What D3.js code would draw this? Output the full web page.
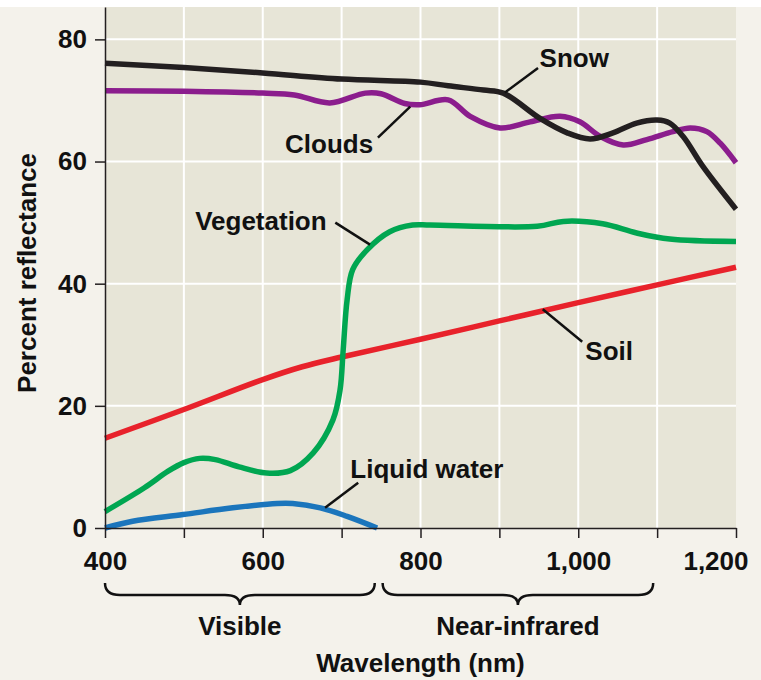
<!DOCTYPE html>
<html>
<head>
<meta charset="utf-8">
<script src="https://cdn.jsdelivr.net/npm/d3@7"></script>
<style>
  body { margin: 0; background: #fff; }
  svg { display: block; font-family: "Liberation Sans", Arial, sans-serif; font-weight: bold; }
</style>
</head>
<body>
<div id="chart"></div>
<script>
// data ---------------------------------------------------------
const snowW   = [400, 500, 600, 700, 800, 835, 880, 905, 951, 986, 1015, 1044, 1074, 1100, 1116, 1133, 1158, 1200];
const snowV   = [76.1, 75.4, 74.5, 73.5, 73.0, 72.4, 71.7, 71.2, 67.1, 64.7, 63.7, 64.7, 66.3, 66.8, 66.3, 64.1, 59.2, 52.2];

const cloudW  = [400, 500, 600, 640, 685, 730, 750, 780, 799, 835, 863, 901, 939, 977, 1002, 1028, 1057, 1087, 1120, 1142, 1163, 1180, 1200];
const cloudV  = [71.6, 71.5, 71.2, 70.9, 69.6, 71.2, 71.1, 69.5, 69.3, 70.1, 67.4, 65.5, 66.5, 67.4, 66.5, 64.1, 62.7, 63.6, 64.9, 65.5, 64.9, 63.0, 59.8];

const vegW    = [400, 450, 480, 500, 520, 540, 570, 605, 635, 664, 689, 698, 702, 707, 714, 732, 761, 790, 812, 948, 981, 1031, 1074, 1116, 1200];
const vegV    = [2.7, 6.6, 9.3, 10.7, 11.4, 11.2, 10.0, 9.0, 9.4, 12.3, 17.7, 22.6, 29.2, 37.4, 42.3, 45.5, 48.5, 49.6, 49.6, 49.4, 50.2, 49.8, 48.3, 47.3, 46.9];

const soilW   = [400, 500, 600, 650, 700, 800, 900, 1000, 1100, 1200];
const soilV   = [14.7, 19.4, 24.3, 26.4, 28.0, 30.9, 33.9, 36.9, 39.8, 42.7];

const waterW  = [400, 435, 499, 562, 618, 638, 673, 707, 745];
const waterV  = [0, 1.1, 2.2, 3.3, 4.0, 4.0, 3.3, 1.9, 0];

const seriesNames  = ['Liquid water', 'Soil', 'Vegetation', 'Clouds', 'Snow'];
const seriesColors = ['#1b75bc', '#e8222b', '#00a651', '#8b1d8d', '#231f20'];

// label text anchor (wavelength, %), leader line from curve point to label point
const labelText   = ['Snow', 'Clouds', 'Vegetation', 'Soil', 'Liquid water'];
const labelAt     = [[951, 75.5], [740, 61.4], [681, 48.8], [1009, 27.5], [711, 8.2]];
const labelAnchor = ['start', 'end', 'end', 'start', 'start'];
const leaderFrom  = [[907, 71.3], [787, 69.0], [736, 46.4], [955, 35.8], [679, 3.3]];
const leaderTo    = [[949, 75.3], [746, 63.9], [692, 50.0], [1005, 30.5], [721, 7.4]];

const bandNames = ['Visible', 'Near-infrared'];
const bandFrom  = [400, 752];
const bandTo    = [742, 1095];

const xTicks = [400, 500, 600, 700, 800, 900, 1000, 1100, 1200];
const yTicks = [0, 20, 40, 60, 80];

// chart ---------------------------------------------------------
const width = 761, height = 680, fs = 26;
const x = d3.scaleLinear().domain([400, 1200]).range([105, 736]);
const y = d3.scaleLinear().domain([0, 85.3]).range([528, 7]);

const svg = d3.select('#chart').append('svg')
  .attr('width', width)
  .attr('height', height);

svg.append('rect')
  .attr('x', 0).attr('y', 7)
  .attr('width', width).attr('height', height - 7)
  .attr('fill', '#f4f2eb');

svg.append('rect')
  .attr('x', x(400)).attr('y', y(85.3))
  .attr('width', x(1200) - x(400)).attr('height', y(0) - y(85.3))
  .attr('fill', '#e7e5d7');

// grid
svg.append('g').selectAll('line')
  .data(xTicks.slice(1, -1))
  .join('line')
    .attr('x1', d => x(d)).attr('x2', d => x(d))
    .attr('y1', y(85.3)).attr('y2', y(0))
    .attr('stroke', '#fff').attr('stroke-width', 2);

svg.append('g').selectAll('line')
  .data(yTicks.slice(1))
  .join('line')
    .attr('x1', x(400)).attr('x2', x(1200))
    .attr('y1', d => y(d)).attr('y2', d => y(d))
    .attr('stroke', '#fff').attr('stroke-width', 2);

// curves
const allW = [waterW, soilW, vegW, cloudW, snowW];
const allV = [waterV, soilV, vegV, cloudV, snowV];
const line = d3.line()
  .x(d => x(d[0]))
  .y(d => y(d[1]))
  .curve(d3.curveCatmullRom.alpha(0.5));

seriesNames.forEach((name, i) => {
  const pts = allW[i].map((w, j) => [w, allV[i][j]]);
  svg.append('path')
    .datum(pts)
    .attr('d', line)
    .attr('fill', 'none')
    .attr('stroke', seriesColors[i])
    .attr('stroke-width', 5.5)
    .attr('stroke-linejoin', 'round');
});

// axes
const xAxis = svg.append('g')
  .attr('transform', `translate(0,${y(0)})`)
  .call(d3.axisBottom(x)
    .tickValues(xTicks)
    .tickSize(10)
    .tickSizeOuter(0)
    .tickPadding(14)
    .tickFormat(d => d % 200 === 0 ? d3.format(',')(d) : ''));

const yAxis = svg.append('g')
  .attr('transform', `translate(${x(400)},0)`)
  .call(d3.axisLeft(y)
    .tickValues(yTicks)
    .tickSize(10)
    .tickSizeOuter(0)
    .tickPadding(8));

[xAxis, yAxis].forEach(g => {
  g.select('.domain').attr('stroke', '#231f20').attr('stroke-width', 1.5);
  g.selectAll('.tick line').attr('stroke', '#231f20').attr('stroke-width', 1.5);
  g.selectAll('.tick text')
    .attr('font-size', fs)
    .attr('font-weight', 'bold')
    .attr('font-family', '"Liberation Sans", Arial, sans-serif')
    .attr('fill', '#111');
});

// last x label sits pulled in from the right edge
xAxis.selectAll('.tick text')
  .filter(d => d === 1200)
  .attr('text-anchor', 'end')
  .attr('x', 12);

// leader lines and labels
labelText.forEach((t, i) => {
  svg.append('line')
    .attr('x1', x(leaderFrom[i][0])).attr('y1', y(leaderFrom[i][1]))
    .attr('x2', x(leaderTo[i][0])).attr('y2', y(leaderTo[i][1]))
    .attr('stroke', '#111').attr('stroke-width', 2.5);
  svg.append('text')
    .attr('x', x(labelAt[i][0]))
    .attr('y', y(labelAt[i][1]))
    .attr('text-anchor', labelAnchor[i])
    .attr('font-size', fs)
    .attr('fill', '#111')
    .text(t);
});

// braces under the x axis
const braceTop = 583, braceDepth = 12, braceTip = 22, r = 15;
bandNames.forEach((name, i) => {
  const x1 = x(bandFrom[i]), x2 = x(bandTo[i]), m = (x1 + x2) / 2;
  const b = braceTop + braceDepth;
  const d = `M${x1},${braceTop} Q${x1},${b} ${x1 + r},${b} L${m - r},${b} ` +
            `Q${m},${b} ${m},${braceTop + braceTip} Q${m},${b} ${m + r},${b} ` +
            `L${x2 - r},${b} Q${x2},${b} ${x2},${braceTop}`;
  svg.append('path')
    .attr('d', d)
    .attr('fill', 'none')
    .attr('stroke', '#111')
    .attr('stroke-width', 2.5);
  svg.append('text')
    .attr('x', m)
    .attr('y', 635)
    .attr('text-anchor', 'middle')
    .attr('font-size', fs)
    .attr('fill', '#111')
    .text(name);
});

// axis titles
svg.append('text')
  .attr('x', (x(400) + x(1200)) / 2)
  .attr('y', 672)
  .attr('text-anchor', 'middle')
  .attr('font-size', fs)
  .attr('fill', '#111')
  .text('Wavelength (nm)');

svg.append('text')
  .attr('transform', 'translate(36,273) rotate(-90)')
  .attr('text-anchor', 'middle')
  .attr('font-size', fs)
  .attr('fill', '#111')
  .text('Percent reflectance');
</script>
</body>
</html>
